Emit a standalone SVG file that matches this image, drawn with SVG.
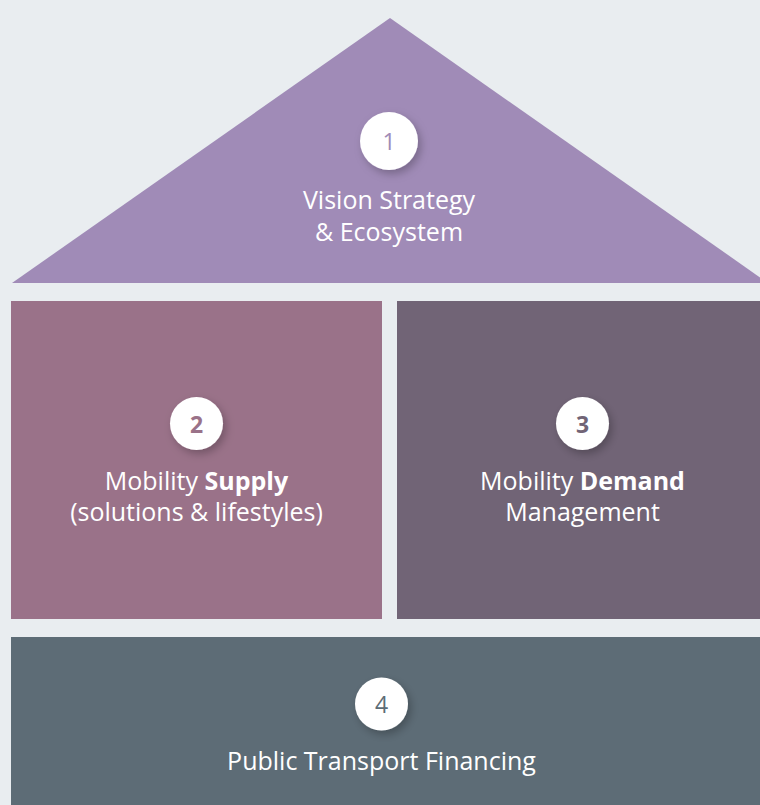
<svg xmlns="http://www.w3.org/2000/svg" width="760" height="805" viewBox="0 0 760 805">
<defs>
<filter id="sh" x="-50%" y="-50%" width="200%" height="200%">
<feDropShadow dx="3" dy="4" stdDeviation="4" flood-color="#000" flood-opacity="0.25"/>
</filter>
<style>
.lbl{font-family:"Open Sans","Noto Sans","Liberation Sans",sans-serif;font-size:25px;fill:#fff;text-anchor:middle}
.num{font-family:"Open Sans","Noto Sans","Liberation Sans",sans-serif;font-size:23px;text-anchor:middle;dominant-baseline:central}
.circ{fill:#fff;filter:url(#sh)}
.b{font-weight:700}
</style>
</defs>
<rect width="760" height="805" fill="#e9edf0"/>
<g id="node1">
<polygon points="390,18 12,283 768,283" fill="#a08bb7"/>
<circle class="circ" cx="389" cy="141" r="29"/>
<text class="num" x="389" y="141" fill="#a08bb7">1</text>
<text class="lbl" x="389" y="209">Vision Strategy</text>
<text class="lbl" x="389" y="241">&amp; Ecosystem</text>
</g>
<g id="node2">
<rect x="11" y="301" width="371" height="318" fill="#9a7289"/>
<circle class="circ" cx="196.5" cy="423.5" r="26.5"/>
<text class="num b" x="196.5" y="423.5" fill="#9a7289">2</text>
<text class="lbl" x="196.5" y="490">Mobility <tspan class="b">Supply</tspan></text>
<text class="lbl" x="196.5" y="521">(solutions &amp; lifestyles)</text>
</g>
<g id="node3">
<rect x="397" y="301" width="371" height="318" fill="#716476"/>
<circle class="circ" cx="582.5" cy="423.5" r="26.5"/>
<text class="num b" x="582.5" y="423.5" fill="#716476">3</text>
<text class="lbl" x="582.5" y="490">Mobility <tspan class="b">Demand</tspan></text>
<text class="lbl" x="582.5" y="521">Management</text>
</g>
<g id="node4">
<rect x="11" y="637" width="757" height="168" fill="#5d6c76"/>
<circle class="circ" cx="381.5" cy="704" r="26.5"/>
<text class="num" x="381.5" y="704" fill="#5d6c76">4</text>
<text class="lbl" x="381.5" y="770">Public Transport Financing</text>
</g>
<g id="connectors"/>
</svg>
